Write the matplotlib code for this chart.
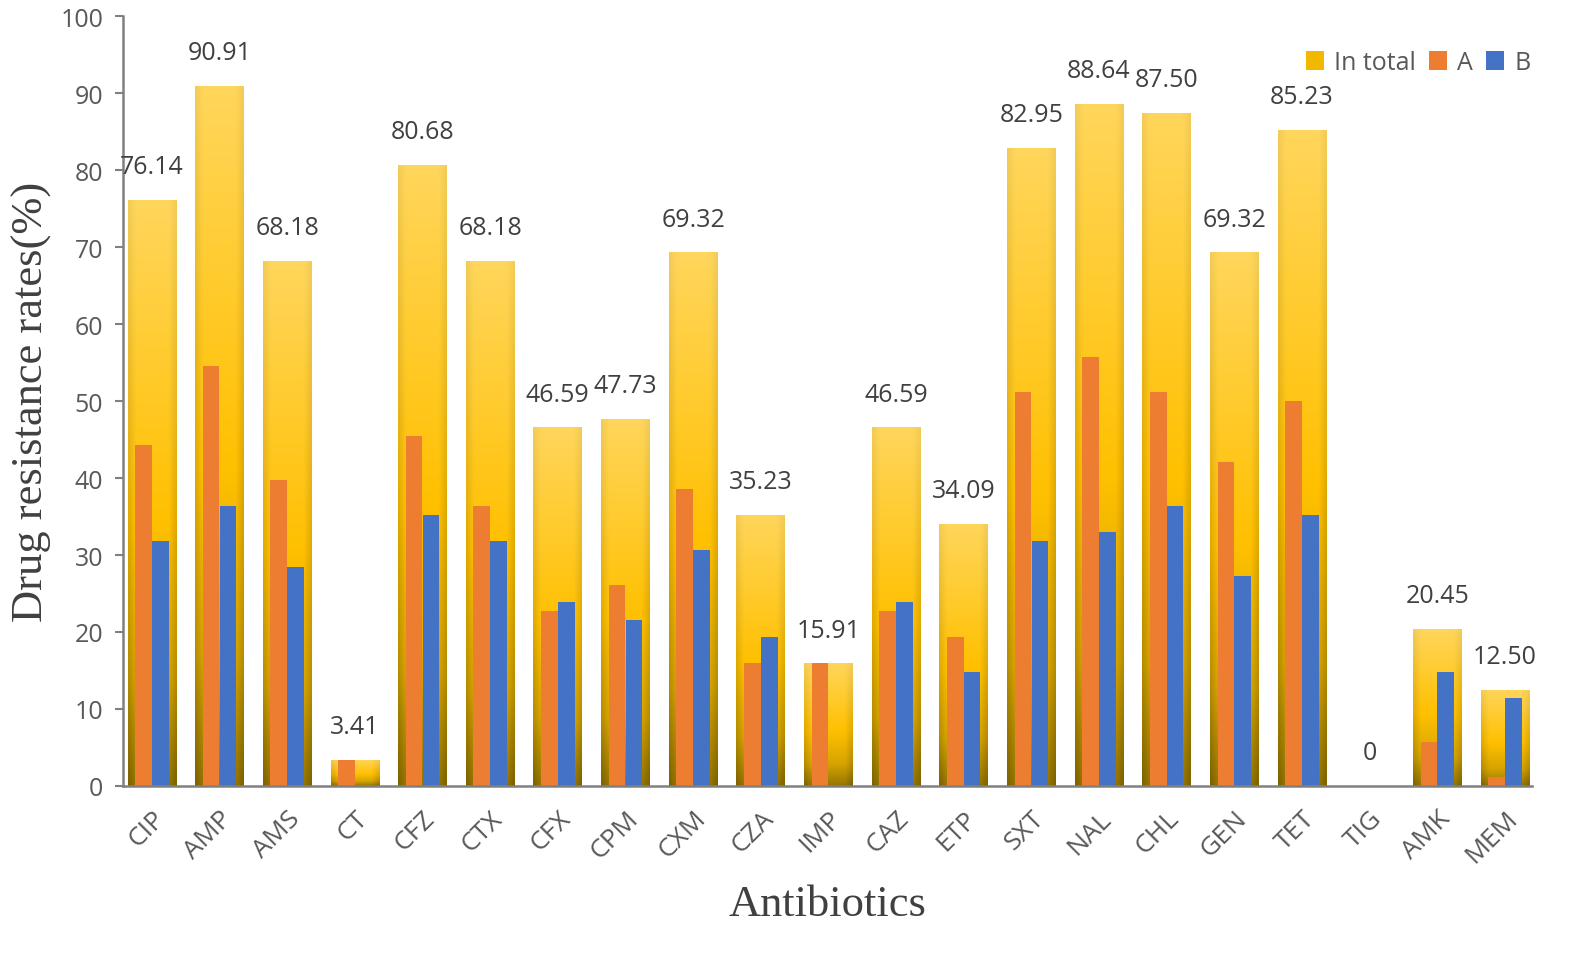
import numpy as np
import matplotlib
matplotlib.use("Agg")
import matplotlib.pyplot as plt
from matplotlib.patches import Patch
from matplotlib.colors import to_rgb

antibiotics = ["CIP", "AMP", "AMS", "CT", "CFZ", "CTX", "CFX", "CPM", "CXM", "CZA", "IMP",
               "CAZ", "ETP", "SXT", "NAL", "CHL", "GEN", "TET", "TIG", "AMK", "MEM"]
total = [76.14, 90.91, 68.18, 3.41, 80.68, 68.18, 46.59, 47.73, 69.32, 35.23, 15.91,
         46.59, 34.09, 82.95, 88.64, 87.50, 69.32, 85.23, 0, 20.45, 12.50]
group_a = [44.32, 54.55, 39.77, 3.41, 45.45, 36.36, 22.73, 26.14, 38.64, 15.91, 15.91,
           22.73, 19.32, 51.14, 55.68, 51.14, 42.05, 50.00, 0, 5.68, 1.14]
group_b = [31.82, 36.36, 28.41, 0, 35.23, 31.82, 23.86, 21.59, 30.68, 19.32, 0,
           23.86, 14.77, 31.82, 32.95, 36.36, 27.27, 35.23, 0, 14.77, 11.36]
total_labels = ["76.14", "90.91", "68.18", "3.41", "80.68", "68.18", "46.59", "47.73", "69.32",
                "35.23", "15.91", "46.59", "34.09", "82.95", "88.64", "87.50", "69.32", "85.23",
                "0", "20.45", "12.50"]


def gold_gradient(nx=60, ny=200):
    # vertical colour stops, bottom -> top
    stops = [(0.0, "#967600"), (0.18, "#D6A400"), (0.45, "#FFC000"), (1.0, "#FFD65C")]
    t = np.linspace(0, 1, ny)
    pos = [s[0] for s in stops]
    cols = np.array([to_rgb(s[1]) for s in stops])
    col = np.stack([np.interp(t, pos, cols[:, k]) for k in range(3)], axis=1)
    img = np.repeat(col[:, None, :], nx, axis=1)
    # darker strips at the left/right edges, stronger near the bottom
    u = np.linspace(0, 1, nx)
    edge = np.clip(1 - np.minimum(u, 1 - u) / 0.16, 0, 1)
    strength = 0.05 + 0.13 * (1 - t)
    img = img * (1 - strength[:, None, None] * edge[None, :, None])
    return img[::-1]


grad = gold_gradient()

fig = plt.figure(figsize=(15.95, 9.62), dpi=100)
ax = fig.add_axes([0.077, 0.182, 0.8835, 0.800])

x = np.arange(len(antibiotics))
bars = ax.bar(x, total, width=0.72, color="none", edgecolor="none", zorder=1)
for p in bars:
    h = p.get_height()
    if h <= 0:
        continue
    im = ax.imshow(grad, extent=[p.get_x(), p.get_x() + p.get_width(), 0, h],
                   aspect="auto", zorder=1, interpolation="bilinear")
    im.set_clip_path(p)

ax.bar(x - 0.125, group_a, width=0.245, color="#ED7D31", zorder=2)
ax.bar(x + 0.125, group_b, width=0.245, color="#4472C4", zorder=2)

for xi, v, lab in zip(x, total, total_labels):
    ax.annotate(lab, (xi, v), xytext=(0, 24), textcoords="offset points",
                ha="center", va="center", fontsize=18, color="#404040",
                family="Open Sans")

ax.set_xlim(-0.43, 20.4)
ax.set_ylim(0, 100)
ax.set_yticks(np.arange(0, 101, 10))
ax.set_xticks(x)
ax.set_xticklabels(antibiotics, rotation=45, ha="right", rotation_mode="anchor",
                   family="Open Sans", fontsize=19, color="#595959")
for lab in ax.get_yticklabels():
    lab.set_family("Open Sans")
ax.tick_params(axis="y", length=6, width=1.5, color="#808080", labelsize=18,
               labelcolor="#595959", pad=8)
ax.tick_params(axis="x", length=0, pad=14)

for s in ["top", "right"]:
    ax.spines[s].set_visible(False)
for s in ["left", "bottom"]:
    ax.spines[s].set_color("#808080")
    ax.spines[s].set_linewidth(1.8)

ax.set_ylabel("Drug resistance rates(%)", family="Liberation Serif", fontsize=32,
              color="#404040", labelpad=6)
ax.set_xlabel("Antibiotics", family="Liberation Serif", fontsize=32,
              color="#404040", labelpad=12)

handles = [Patch(facecolor="#F2B800", label="In total"),
           Patch(facecolor="#ED7D31", label="A"),
           Patch(facecolor="#4472C4", label="B")]
leg = ax.legend(handles=handles, ncol=3, loc="upper right", bbox_to_anchor=(1.015, 0.985),
                frameon=False, handlelength=0.75, handleheight=0.75, handletextpad=0.4,
                columnspacing=0.5, prop={"family": "Open Sans", "size": 18})
for t in leg.get_texts():
    t.set_color("#595959")

fig.savefig("out.png", dpi=100)
